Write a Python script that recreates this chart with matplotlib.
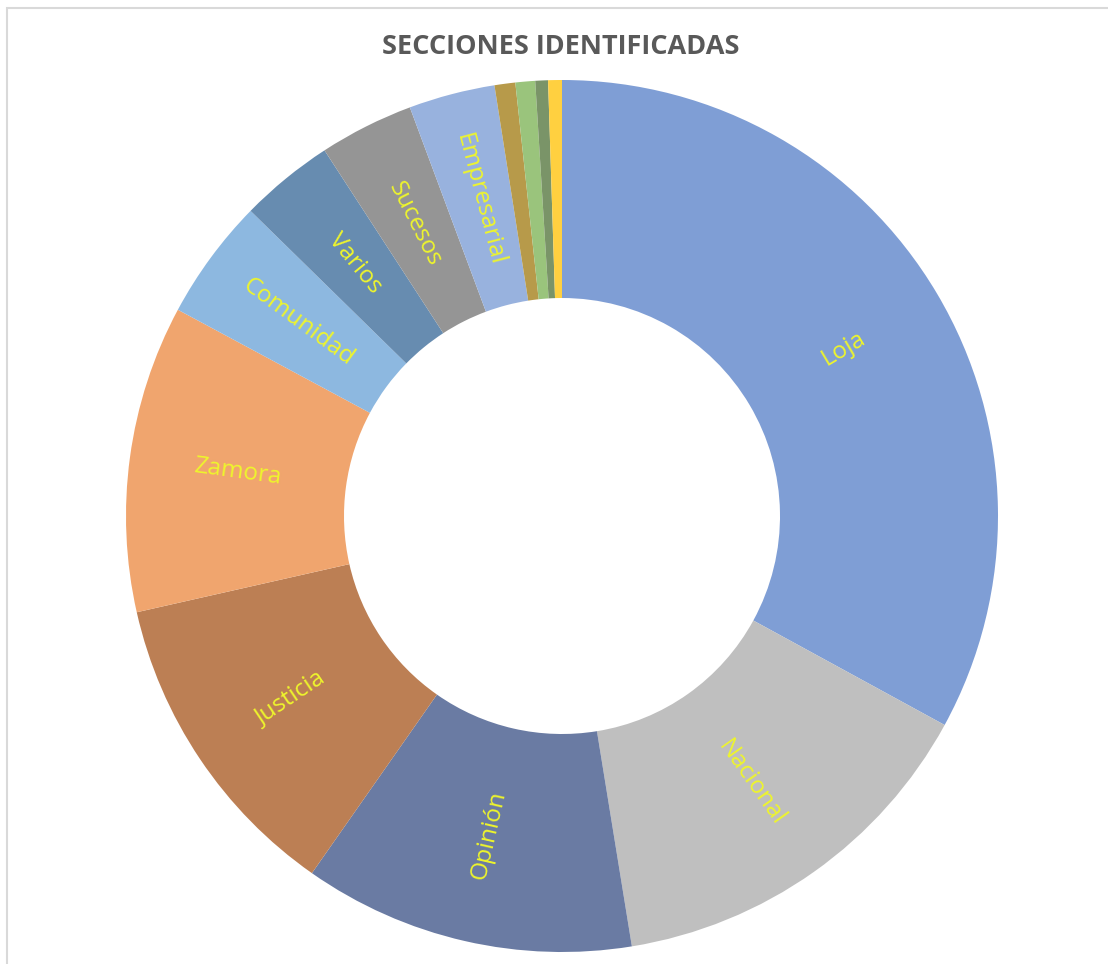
import matplotlib
matplotlib.use('Agg')
import matplotlib.pyplot as plt
import numpy as np

# secciones y porcentajes
secciones = ['Loja', 'Nacional', 'Opinión', 'Justicia', 'Zamora', 'Comunidad',
             'Varios', 'Sucesos', 'Empresarial', '', '', '', '']
valores = [33.0, 14.5, 12.3, 11.75, 11.4, 4.5, 3.5, 3.5, 3.2, 0.77, 0.73, 0.47, 0.51]
colores = ['#7F9ED5', '#BFBFBF', '#6A7BA3', '#BC7F54', '#F0A56E', '#8DB8E0',
           '#678CB0', '#959595', '#98B2DE', '#B79A4A', '#9AC47C', '#7A9468', '#FFD040']

W, H = 1108, 964
fig = plt.figure(figsize=(W / 100, H / 100), dpi=100)
ax = fig.add_axes([0, 0, 1, 1])

cx, cy = 562, H - 516
R = 436
wedges, _ = ax.pie(valores, colors=colores, startangle=90, counterclock=False,
                   radius=R, center=(cx, cy), frame=True,
                   wedgeprops=dict(width=R / 2, linewidth=0))
ax.set_xlim(0, W)
ax.set_ylim(0, H)
ax.set_aspect('equal')
ax.axis('off')

# etiquetas giradas en direccion radial
total = sum(valores)
acum = 0
for nombre, v in zip(secciones, valores):
    mid = 90 - (acum + v / 2) / total * 360
    acum += v
    if not nombre:
        continue
    ang = (mid + 180) % 360 - 180
    rot = ang
    if rot > 90:
        rot -= 180
    elif rot < -90:
        rot += 180
    r = R * 0.75
    x = cx + r * np.cos(np.radians(ang))
    y = cy + r * np.sin(np.radians(ang))
    ax.text(x, y, nombre, rotation=rot, ha='center', va='center',
            rotation_mode='anchor', fontsize=17.5, color='#EEF52C', family='Open Sans')

ax.text(W / 2 + 7, H - 47, 'SECCIONES IDENTIFICADAS', ha='center', va='center',
        fontsize=19.5, fontweight='bold', color='#595959', family='Open Sans')

# borde del area del grafico
fig.patches.append(plt.Rectangle((7 / W, -0.1), 1.2, (H - 8) / H + 0.1,
                                 transform=fig.transFigure, fill=False,
                                 edgecolor='#D9D9D9', linewidth=1.5))

fig.savefig('out.png', dpi=100)
